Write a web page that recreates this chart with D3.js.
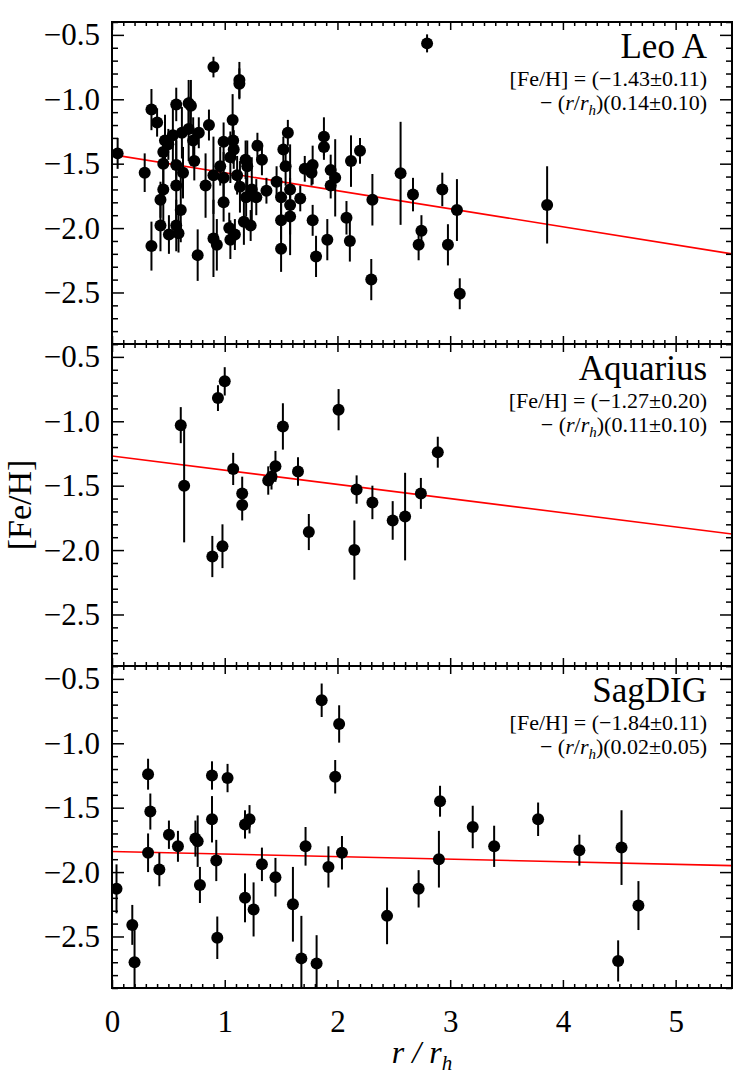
<!DOCTYPE html>
<html>
<head>
<meta charset="utf-8">
<script src="https://cdn.jsdelivr.net/npm/d3@7"></script>
<style>
  body { margin: 0; background: #fff; }
  svg text { font-family: "Liberation Serif", "Times New Roman", serif !important; fill: #000; }
</style>
</head>
<body>
<div id="chart"></div>
<script>
// [r/rh, [Fe/H], error] per star
var leoA = [
  [0.05,-1.42,0.12],[0.29,-1.57,0.15],[0.35,-1.08,0.16],[0.40,-1.18,0.11],[0.35,-2.14,0.19],
  [0.43,-1.98,0.20],[0.43,-1.78,0.14],[0.455,-1.70,0.30],[0.455,-1.50,0.18],[0.455,-1.41,0.12],
  [0.47,-1.32,0.20],[0.50,-1.35,0.12],[0.505,-2.05,0.15],[0.57,-1.04,0.13],[0.54,-1.28,0.25],
  [0.57,-1.51,0.20],[0.57,-1.67,0.35],[0.57,-1.98,0.20],[0.59,-2.04,0.15],[0.61,-1.86,0.25],
  [0.63,-1.57,0.20],[0.62,-1.26,0.20],[0.68,-1.03,0.18],[0.70,-1.05,0.20],[0.68,-1.23,0.25],
  [0.72,-1.32,0.18],[0.73,-1.48,0.15],[0.77,-1.26,0.12],[0.76,-2.21,0.20],[0.83,-1.67,0.25],
  [0.86,-1.20,0.12],[0.90,-0.75,0.08],[0.90,-1.59,0.30],[0.90,-2.08,0.30],[0.93,-2.13,0.20],
  [0.99,-1.33,0.15],[0.96,-1.52,0.15],[0.99,-1.61,0.20],[0.99,-1.80,0.15],[1.07,-1.16,0.20],
  [1.075,-1.32,0.18],[1.08,-1.39,0.15],[1.05,-1.45,0.20],[1.04,-2.00,0.12],[1.05,-2.09,0.15],
  [1.09,-2.05,0.12],[1.13,-0.85,0.14],[1.13,-0.88,0.12],[1.11,-1.59,0.15],[1.135,-1.68,0.20],
  [1.17,-1.95,0.18],[1.185,-1.47,0.15],[1.20,-1.52,0.20],[1.19,-1.76,0.15],[1.23,-1.98,0.12],
  [1.24,-1.70,0.25],[1.28,-1.76,0.14],[1.29,-1.36,0.10],[1.33,-1.47,0.12],[1.37,-1.71,0.10],
  [1.46,-1.64,0.12],[1.50,-1.76,0.15],[1.50,-1.94,0.15],[1.50,-2.16,0.18],[1.52,-1.39,0.10],
  [1.54,-1.52,0.15],[1.56,-1.26,0.10],[1.58,-1.70,0.35],[1.58,-1.82,0.12],[1.58,-1.91,0.30],
  [1.67,-1.77,0.10],[1.71,-1.54,0.10],[1.77,-1.57,0.10],[1.78,-1.51,0.15],[1.78,-1.94,0.12],
  [1.81,-2.22,0.16],[1.88,-1.29,0.15],[1.88,-1.37,0.10],[1.91,-2.09,0.16],[1.94,-1.55,0.12],
  [1.94,-1.67,0.10],[1.98,-1.61,0.30],[2.08,-1.92,0.13],[2.11,-2.10,0.16],[2.12,-1.48,0.20],
  [2.20,-1.40,0.10],[2.30,-2.40,0.16],[2.31,-1.78,0.20],[2.56,-1.575,0.40],[2.67,-1.74,0.13],
  [2.72,-2.13,0.12],[2.745,-2.02,0.12],[2.795,-0.566,0.07],[2.93,-1.70,0.13],[2.98,-2.13,0.16],
  [3.06,-1.86,0.24],[3.085,-2.51,0.12],[3.86,-1.82,0.30]
];
var aquarius = [
  [0.61,-1.03,0.14],[0.64,-1.50,0.44],[0.89,-2.05,0.16],[0.94,-0.82,0.10],[0.98,-1.97,0.17],
  [1.00,-0.69,0.11],[1.075,-1.37,0.125],[1.155,-1.56,0.13],[1.155,-1.65,0.12],[1.386,-1.46,0.11],
  [1.415,-1.43,0.10],[1.45,-1.35,0.12],[1.516,-1.04,0.18],[1.65,-1.39,0.11],[1.746,-1.86,0.14],
  [2.01,-0.91,0.16],[2.15,-2.00,0.23],[2.17,-1.53,0.11],[2.31,-1.63,0.13],[2.49,-1.77,0.15],
  [2.60,-1.74,0.34],[2.74,-1.56,0.12],[2.89,-1.24,0.12]
];
var sagdig = [
  [0.04,-2.13,0.19],[0.18,-2.41,0.155],[0.20,-2.70,0.25],[0.32,-1.24,0.12],[0.34,-1.53,0.14],
  [0.32,-1.85,0.15],[0.42,-1.98,0.13],[0.505,-1.71,0.11],[0.585,-1.80,0.12],[0.74,-1.74,0.14],
  [0.76,-1.76,0.20],[0.78,-2.10,0.14],[0.887,-1.25,0.11],[0.887,-1.59,0.18],[0.925,-1.91,0.16],
  [0.934,-2.51,0.165],[1.025,-1.27,0.11],[1.18,-1.63,0.11],[1.22,-1.59,0.11],[1.18,-2.20,0.19],
  [1.256,-2.29,0.21],[1.33,-1.94,0.13],[1.45,-2.04,0.15],[1.605,-2.25,0.29],[1.68,-2.67,0.33],
  [1.717,-1.80,0.15],[1.815,-2.71,0.22],[1.86,-0.666,0.13],[1.92,-1.96,0.16],[1.98,-1.26,0.13],
  [2.015,-0.85,0.145],[2.04,-1.85,0.13],[2.44,-2.34,0.22],[2.72,-2.13,0.145],[2.90,-1.90,0.22],
  [2.91,-1.45,0.12],[3.20,-1.65,0.165],[3.39,-1.80,0.16],[3.78,-1.59,0.13],[4.146,-1.83,0.12],
  [4.49,-2.69,0.16],[4.52,-1.81,0.29],[4.67,-2.26,0.19]
];

var panelNames = ["Leo A", "Aquarius", "SagDIG"];
var panelData = [leoA, aquarius, sagdig];
var fitIntercept = [-1.43, -1.27, -1.84];
var fitInterceptErr = [0.11, 0.20, 0.11];
var fitSlope = [0.14, 0.11, 0.02];
var fitSlopeErr = [0.10, 0.10, 0.05];

var xMajor = [0, 1, 2, 3, 4, 5];
var yMajor = [-0.5, -1.0, -1.5, -2.0, -2.5];
var xDomain = [0, 5.5];
var yDomain = [-2.9, -0.4];

var svgWidth = 747;
var svgHeight = 1087;
var margin = { top: 22, left: 112 };
var width = 620;
var panelHeight = 322;
var serif = '"Liberation Serif", "Times New Roman", serif';

var svg = d3.select("#chart")
    .append("svg")
    .attr("width", svgWidth)
    .attr("height", svgHeight)
    .style("font-family", serif);

var xScale = d3.scaleLinear().domain(xDomain).range([0, width]);
var yScale = d3.scaleLinear().domain(yDomain).range([panelHeight, 0]);

var xMinor = d3.range(0, 55).map(d => d / 10).filter(d => !xMajor.includes(d));
var yMinor = d3.range(-29, -3).map(d => d / 10).filter(d => yMajor.indexOf(d) < 0);

var fmt = d => d.toFixed(1).replace("-", "\u2212");
var f2 = d => d.toFixed(2).replace("-", "\u2212");

panelData.forEach(function(stars, i) {
    var g = svg.append("g")
        .attr("transform", `translate(${margin.left},${margin.top + i * panelHeight})`);

    g.append("clipPath").attr("id", "clip" + i)
        .append("rect").attr("width", width).attr("height", panelHeight);

    var plot = g.append("g").attr("clip-path", `url(#clip${i})`);

    // fit line
    plot.append("line")
        .attr("x1", xScale(xDomain[0]))
        .attr("y1", yScale(fitIntercept[i] - fitSlope[i] * xDomain[0]))
        .attr("x2", xScale(xDomain[1]))
        .attr("y2", yScale(fitIntercept[i] - fitSlope[i] * xDomain[1]))
        .attr("stroke", "#ff0000")
        .attr("stroke-width", 1.6);

    plot.selectAll(".err")
        .data(stars)
        .enter()
        .append("line")
        .attr("x1", d => xScale(d[0]))
        .attr("x2", d => xScale(d[0]))
        .attr("y1", d => yScale(d[1] - d[2]))
        .attr("y2", d => yScale(d[1] + d[2]))
        .attr("stroke", "#000")
        .attr("stroke-width", 2);

    plot.selectAll("circle")
        .data(stars)
        .enter()
        .append("circle")
        .attr("cx", d => xScale(d[0]))
        .attr("cy", d => yScale(d[1]))
        .attr("r", 6)
        .attr("fill", "#000");

    // inward ticks on all four sides
    var tickStyle = function(sel) {
        sel.attr("font-family", serif);
        sel.select(".domain").remove();
        sel.selectAll("line").attr("stroke", "#000").attr("stroke-width", 1.5);
        sel.selectAll("text").style("font-family", serif).style("font-size", "31px");
    };
    g.append("g").attr("transform", `translate(0,${panelHeight})`)
        .call(d3.axisBottom(xScale).tickValues(xMinor).tickSize(-4).tickFormat(""))
        .call(tickStyle);
    g.append("g").attr("transform", `translate(0,${panelHeight})`)
        .call(d3.axisBottom(xScale).tickValues(xMajor).tickSize(-8).tickPadding(22)
            .tickFormat(i === 2 ? d3.format("d") : ""))
        .call(tickStyle);
    g.append("g")
        .call(d3.axisTop(xScale).tickValues(xMinor).tickSize(-4).tickFormat(""))
        .call(tickStyle);
    g.append("g")
        .call(d3.axisTop(xScale).tickValues(xMajor).tickSize(-8).tickFormat(""))
        .call(tickStyle);

    g.append("g")
        .call(d3.axisLeft(yScale).tickValues(yMinor).tickSize(-6).tickFormat(""))
        .call(tickStyle);
    g.append("g")
        .call(d3.axisLeft(yScale).tickValues(yMajor).tickSize(-12).tickPadding(12).tickFormat(fmt))
        .call(tickStyle);
    g.append("g").attr("transform", `translate(${width},0)`)
        .call(d3.axisRight(yScale).tickValues(yMinor).tickSize(-6).tickFormat(""))
        .call(tickStyle);
    g.append("g").attr("transform", `translate(${width},0)`)
        .call(d3.axisRight(yScale).tickValues(yMajor).tickSize(-12).tickFormat(""))
        .call(tickStyle);

    g.append("rect")
        .attr("width", width)
        .attr("height", panelHeight)
        .attr("fill", "none")
        .attr("stroke", "#000")
        .attr("stroke-width", 2);

    // labels
    var tx = 595;
    g.append("text")
        .attr("x", tx).attr("y", 36)
        .attr("text-anchor", "end")
        .style("font-size", "35px")
        .text(panelNames[i]);
    g.append("text")
        .attr("x", tx).attr("y", 64)
        .attr("text-anchor", "end")
        .style("font-size", "22px")
        .text(`[Fe/H] = (${f2(fitIntercept[i])}\u00b1${f2(fitInterceptErr[i])})`);
    var eq = g.append("text")
        .attr("x", tx).attr("y", 88)
        .attr("text-anchor", "end")
        .style("font-size", "22px");
    eq.append("tspan").text("\u2212 (");
    eq.append("tspan").style("font-style", "italic").text("r");
    eq.append("tspan").text("/");
    eq.append("tspan").style("font-style", "italic").text("r");
    eq.append("tspan").style("font-style", "italic").style("font-size", "15px").attr("dy", 5).text("h");
    eq.append("tspan").attr("dy", -5)
        .text(`)(${f2(fitSlope[i])}\u00b1${f2(fitSlopeErr[i])})`);
});

// axis titles
var xt = svg.append("text")
    .attr("x", margin.left + width / 2)
    .attr("y", 1063)
    .attr("text-anchor", "middle")
    .style("font-size", "32px")
    .style("font-style", "italic");
xt.append("tspan").text("r / r");
xt.append("tspan").style("font-size", "21px").attr("dy", 7).text("h");

svg.append("text")
    .attr("transform", `translate(31,${margin.top + 1.5 * panelHeight}) rotate(-90)`)
    .attr("text-anchor", "middle")
    .style("font-size", "34px")
    .text("[Fe/H]");
</script>
</body>
</html>
